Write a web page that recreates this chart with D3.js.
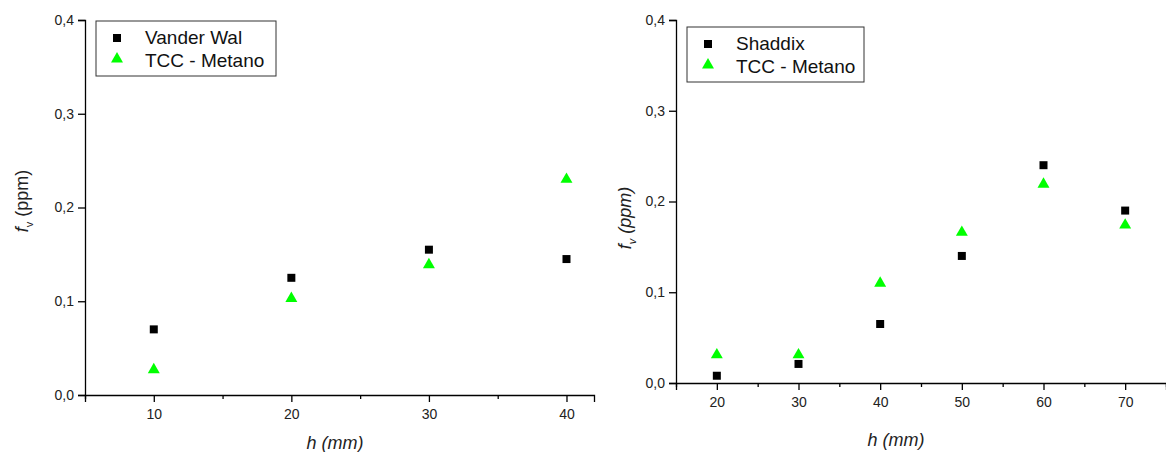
<!DOCTYPE html>
<html lang="en">
<head>
<meta charset="UTF-8">
<title>fv vs h</title>
<style>
    body { margin: 0; background: white; }
    svg { display: block; font-family: "Liberation Sans", Arial, sans-serif; }
    .axis path, .axis line { stroke: #000; stroke-width: 1.3; }
    .axis text { fill: #222; }
</style>
</head>
<body>
<script src="https://d3js.org/d3.v7.min.js"></script>
<script>
// data
var hLeft = [10, 20, 30, 40];
var vanderWal = [0.07, 0.125, 0.155, 0.145];
var tccLeft = [0.027, 0.103, 0.139, 0.23];

var hRight = [20, 30, 40, 50, 60, 70];
var shaddix = [0.008, 0.021, 0.065, 0.14, 0.24, 0.19];
var tccRight = [0.031, 0.031, 0.11, 0.166, 0.219, 0.174];

var yTicks = [0, 0.1, 0.2, 0.3, 0.4];
var xTicksLeft = [10, 20, 30, 40];
var xTicksRight = [20, 30, 40, 50, 60, 70];

var svg = d3.select("body").append("svg")
    .attr("width", 1166).attr("height", 452);

var fmt = function(d) { return d3.format(".1f")(d).replace(".", ","); };

function panel(opt) {
    var x = d3.scaleLinear().domain(opt.xDomain).range([opt.left, opt.right]);
    var y = d3.scaleLinear().domain([0, 0.4]).range([opt.bottom, opt.top]);

    // minor x ticks (half steps)
    var minor = [];
    for (var v = opt.xDomain[0]; v <= opt.xDomain[1]; v += 5) {
        if (v % 10 !== 0) minor.push(v);
    }
    svg.append("g").attr("class", "axis")
        .attr("transform", "translate(0," + opt.bottom + ")")
        .call(d3.axisBottom(x).tickValues(minor).tickSize(4).tickFormat(""))
        .select(".domain").remove();

    svg.append("g").attr("class", "axis")
        .attr("transform", "translate(0," + opt.bottom + ")")
        .call(d3.axisBottom(x).tickValues(opt.xTicks).tickSizeOuter(0).tickSize(7).tickPadding(7))
        .attr("font-size", 14);

    svg.append("g").attr("class", "axis")
        .attr("transform", "translate(" + opt.left + ",0)")
        .call(d3.axisLeft(y).tickValues(yTicks).tickSizeOuter(0).tickSize(7).tickPadding(4).tickFormat(fmt))
        .attr("font-size", 14);

    // x label
    svg.append("text")
        .attr("x", opt.xlabX).attr("y", opt.xlabY)
        .attr("text-anchor", "middle").attr("font-size", 18)
        .attr("font-style", "italic").attr("fill", "#222")
        .text("h (mm)");

    // y label
    var yl = svg.append("text")
        .attr("transform", "translate(" + opt.ylabX + "," + opt.ylabY + ") rotate(-90)")
        .attr("text-anchor", "middle").attr("font-size", 18).attr("fill", "#222")
        .attr("font-style", opt.allItalic ? "italic" : "normal");
    yl.append("tspan").attr("font-style", "italic").text("f");
    yl.append("tspan").attr("font-size", 11).attr("dy", 5).text("v");
    yl.append("tspan").attr("dy", -5).text(" (ppm)");

    var sq = d3.symbol().type(d3.symbolSquare).size(64);
    var tri = d3.symbol().type(d3.symbolTriangle).size(62);

    svg.append("g").selectAll("path")
        .data(opt.xs.map(function(h, i) { return [h, opt.s1[i]]; }))
        .enter().append("path")
        .attr("d", sq).attr("fill", "#000")
        .attr("transform", function(d) { return "translate(" + x(d[0]) + "," + y(d[1]) + ")"; });

    svg.append("g").selectAll("path")
        .data(opt.xs.map(function(h, i) { return [h, opt.s2[i]]; }))
        .enter().append("path")
        .attr("d", tri).attr("fill", "#00ff00")
        .attr("transform", function(d) { return "translate(" + x(d[0]) + "," + y(d[1]) + ")"; });

    // legend
    var lg = svg.append("g").attr("transform", "translate(" + opt.leg[0] + "," + opt.leg[1] + ")");
    lg.append("rect").attr("width", opt.leg[2]).attr("height", 55)
        .attr("fill", "white").attr("stroke", "#333").attr("stroke-width", 1);
    lg.append("path").attr("d", sq).attr("fill", "#000").attr("transform", "translate(21,17)");
    lg.append("path").attr("d", tri).attr("fill", "#00ff00").attr("transform", "translate(21,38)");
    lg.append("text").attr("x", 49).attr("y", 23).attr("font-size", 19).attr("fill", "#111").text(opt.name);
    lg.append("text").attr("x", 49).attr("y", 46).attr("font-size", 19).attr("fill", "#111").text("TCC - Metano");
}

panel({
    xDomain: [5, 42], xTicks: xTicksLeft, left: 85, right: 594, top: 20, bottom: 395,
    xs: hLeft, s1: vanderWal, s2: tccLeft, name: "Vander Wal",
    leg: [96, 21, 180], ylabX: 28, ylabY: 201, xlabX: 335, xlabY: 449, allItalic: false
});
panel({
    xDomain: [15, 75], xTicks: xTicksRight, left: 676, right: 1166, top: 20, bottom: 383,
    xs: hRight, s1: shaddix, s2: tccRight, name: "Shaddix",
    leg: [687, 27, 177], ylabX: 631, ylabY: 218, xlabX: 896, xlabY: 446, allItalic: true
});
</script>
</body>
</html>
